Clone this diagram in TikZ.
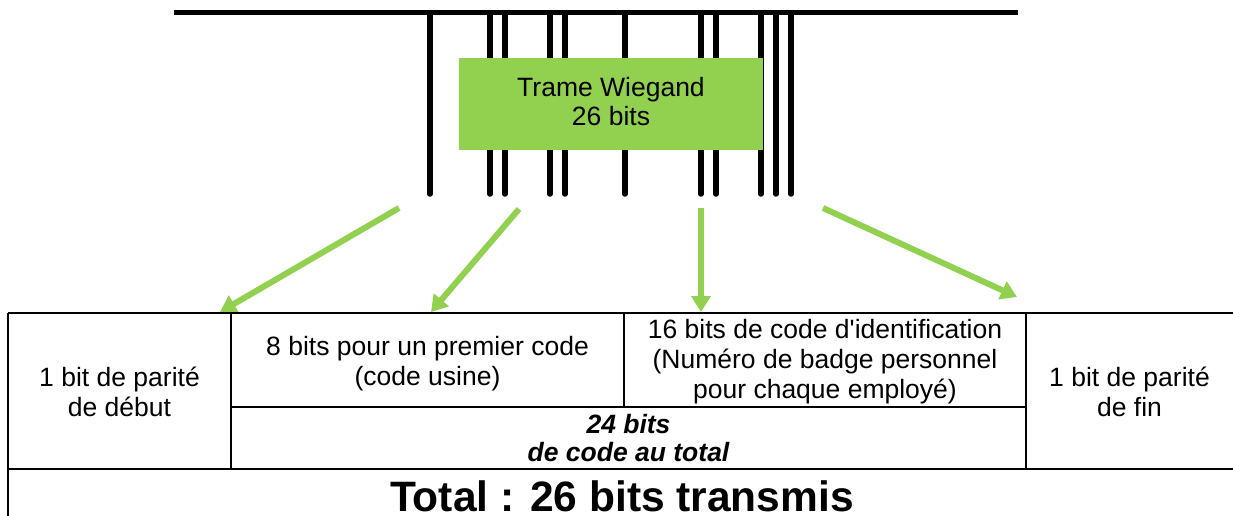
\documentclass[tikz,border=0pt]{standalone}
\usepackage{fontspec}
\setmainfont{Liberation Sans}
\usetikzlibrary{arrows.meta}
\definecolor{wgreen}{HTML}{92D050}
\begin{document}
\begin{tikzpicture}[x=1pt,y=-1pt,
  bar/.style={line width=5.5pt,line cap=round},
  topbar/.style={line width=5pt},
  grid/.style={line width=2.5pt},
  garrow/.style={draw=wgreen,line width=6pt,-{Triangle[length=16pt,width=19pt]}},
  cell/.style={align=center,font=\fontsize{26.5}{30}\selectfont,inner sep=0pt},
  sum/.style={cell,font=\fontsize{26.5}{28.5}\selectfont\bfseries\itshape},
  big/.style={inner sep=0pt,font=\fontsize{42.5}{48}\selectfont\bfseries},
  frame/.style={fill=wgreen,draw=none,minimum width=304pt,minimum height=92pt,inner sep=0pt},
  frametext/.style={inner sep=0pt,align=center,font=\fontsize{26.5}{29}\selectfont}]
\useasboundingbox (0,0) rectangle (1233,516);
% top bus
\draw[topbar] (174,13) -- (1018,13);
\foreach \x in {430,490,505,550,565,625,701,716,761,776,791}
  \draw[bar] (\x,15) -- (\x,194);
% Wiegand frame box
\node[frame] (trame) at (611,104) {};
\node[frametext] (trametxt) at (611,101.5) {Trame Wiegand\\26 bits};
% arrows
\coordinate (s1) at (399,208); \coordinate (e1) at (220,312);
\coordinate (s2) at (519,209); \coordinate (e2) at (431,312);
\coordinate (s3) at (701,208); \coordinate (e3) at (701,312);
\coordinate (s4) at (823,208); \coordinate (e4) at (1017,297);
\draw[garrow] (s1) -- (e1);
\draw[garrow] (s2) -- (e2);
\draw[garrow] (s3) -- (e3);
\draw[garrow] (s4) -- (e4);
% table grid
\draw[grid] (8,313) -- (1240,313);
\draw[grid] (231,407) -- (1026,407);
\draw[grid] (8,469) -- (1240,469);
\draw[grid] (8,313) -- (8,520);
\draw[grid] (231,313) -- (231,469);
\draw[grid] (624,313) -- (624,407);
\draw[grid] (1026,313) -- (1026,469);
% cells
\node[cell] (c1) at (119.5,392) {1 bit de parité\\de début};
\node[cell] (c2) at (427.5,364) {8 bits pour un premier code\\(code usine)};
\node[cell] (c3) at (825,362) {16 bits de code d\textquotesingle identification\\(Numéro de badge personnel\\pour chaque employé)};
\node[sum] (c24) at (628.5,438) {24 bits\\de code au total};
\node[cell] (c4) at (1129.5,392) {1 bit de parité\\de fin};
\node[big,anchor=base] (total) at (622,511) {Total : 26 bits transmis};
\end{tikzpicture}
\end{document}
